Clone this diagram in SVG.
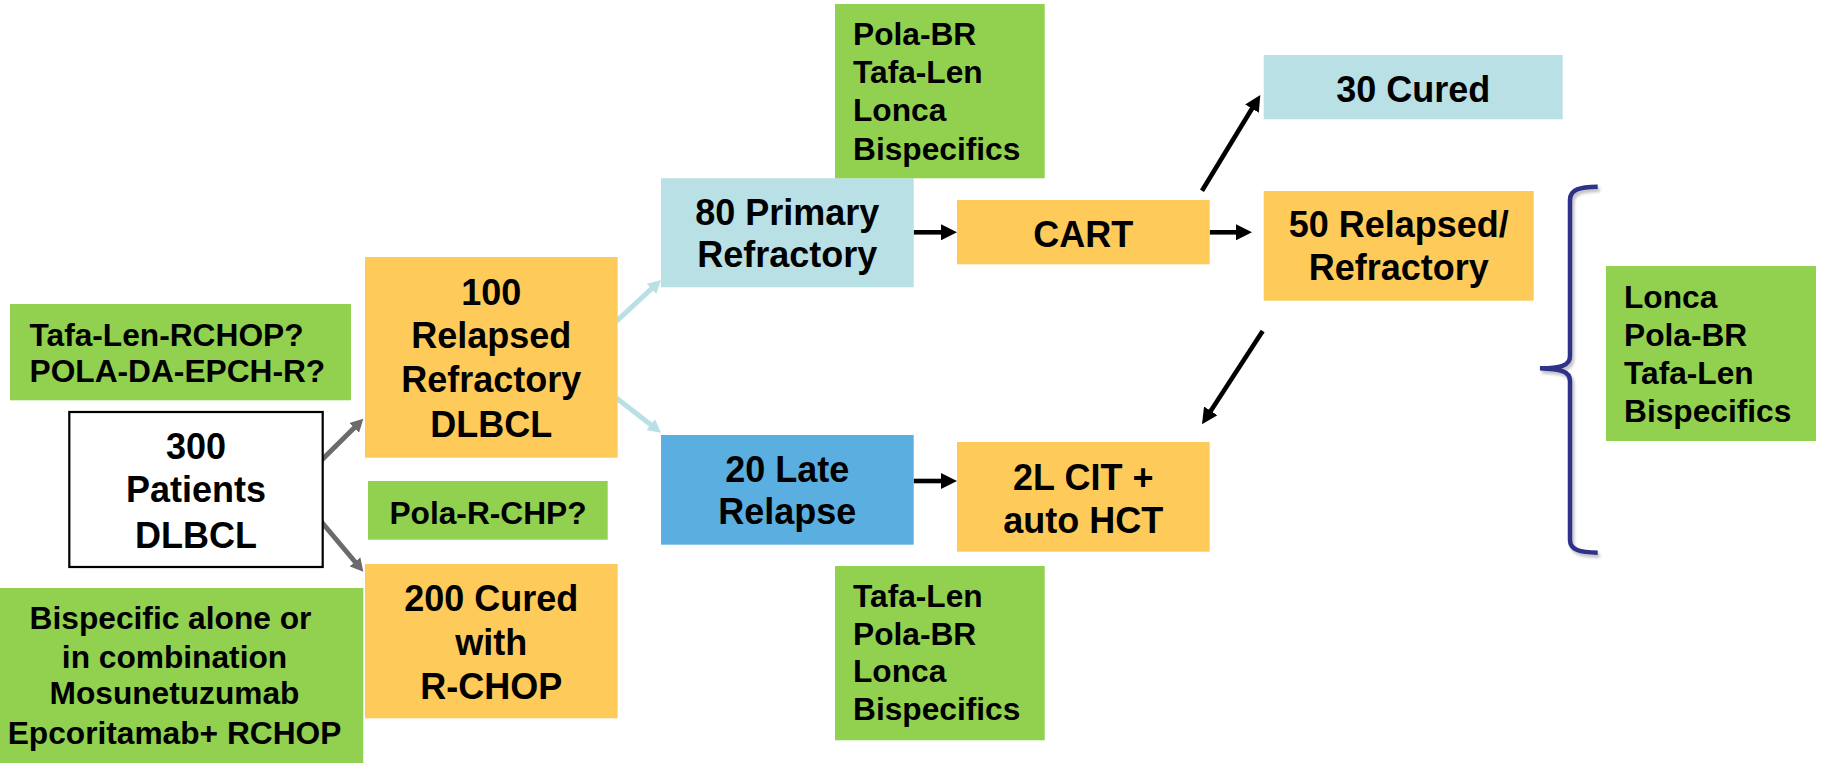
<svg xmlns="http://www.w3.org/2000/svg" width="1826" height="763" viewBox="0 0 1826 763">
  <style>
    text { font-family: "Liberation Sans", Arial, sans-serif; font-weight: bold; fill: #000; }
    .big { font-size: 36px; text-anchor: middle; }
    .small { font-size: 31.7px; }
    .mid { text-anchor: middle; }
    .orange { fill: #fecb5b; }
    .green { fill: #92d050; }
    .aqua { fill: #b9e0e4; }
    .blue { fill: #5bafe0; }
    .conn { fill: none; stroke-width: 4.6; }
    .grey { stroke: #6b6b6b; stroke-width: 5; }
    .pale { stroke: #b9e0e4; stroke-width: 5; }
    .black { stroke: #000; }
  </style>
  <defs>
    <marker id="headBlack" markerUnits="userSpaceOnUse" markerWidth="17" markerHeight="16" refX="1" refY="8" orient="auto">
      <path d="M0,0 L16,8 L0,16 z" fill="#000"/>
    </marker>
    <marker id="headGrey" markerUnits="userSpaceOnUse" markerWidth="14" markerHeight="14" refX="1" refY="7" orient="auto">
      <path d="M0,0 L13,7 L0,14 z" fill="#6b6b6b"/>
    </marker>
    <marker id="headPale" markerUnits="userSpaceOnUse" markerWidth="14" markerHeight="14" refX="1" refY="7" orient="auto">
      <path d="M0,0 L13,7 L0,14 z" fill="#b9e0e4"/>
    </marker>
    <filter id="braceShadow" x="-20%" y="-5%" width="140%" height="110%">
      <feDropShadow dx="2" dy="3" stdDeviation="1.5" flood-color="#000" flood-opacity="0.25"/>
    </filter>
  </defs>

  <rect width="1826" height="763" fill="#fff"/>

  <!-- connectors -->
  <g id="connectors">
    <line class="conn grey" x1="320.7" y1="461" x2="354.8" y2="427.2" marker-end="url(#headGrey)"/>
    <line class="conn grey" x1="320.7" y1="521" x2="355.6" y2="562.5" marker-end="url(#headGrey)"/>
    <line class="conn pale" x1="616" y1="321.7" x2="652.2" y2="288.2" marker-end="url(#headPale)"/>
    <line class="conn pale" x1="616" y1="397.7" x2="651.5" y2="425.3" marker-end="url(#headPale)"/>
    <line class="conn black" x1="913.7" y1="232.3" x2="942" y2="232.3" marker-end="url(#headBlack)"/>
    <line class="conn black" x1="913.7" y1="481" x2="942" y2="481" marker-end="url(#headBlack)"/>
    <line class="conn black" x1="1209.7" y1="232.3" x2="1237" y2="232.3" marker-end="url(#headBlack)"/>
    <line class="conn black" x1="1202" y1="190.7" x2="1252.5" y2="107.8" marker-end="url(#headBlack)"/>
    <line class="conn black" x1="1262.7" y1="331" x2="1210.2" y2="411.7" marker-end="url(#headBlack)"/>
    <path id="brace" d="M1597.7,186.7 C1580,187 1570,189 1570,200 L1570,356 C1570,366 1560,368 1540,368.3 C1560,369 1570,371 1570,381 L1570,540 C1570,550 1580,552.5 1597.7,552.7" fill="none" stroke="#2e3089" stroke-width="4.5" filter="url(#braceShadow)"/>
  </g>

  <!-- start population -->
  <g id="patients">
    <rect x="69.3" y="412" width="253.4" height="155" fill="#fff" stroke="#000" stroke-width="2.2"/>
    <text class="big" x="196" y="459">300</text>
    <text class="big" x="196" y="502">Patients</text>
    <text class="big" x="196" y="547.5">DLBCL</text>
  </g>

  <g id="frontline-trials">
    <rect class="green" x="10" y="304" width="341" height="96.3"/>
    <text class="small" x="29.5" y="345.5">Tafa-Len-RCHOP?</text>
    <text class="small" x="29.5" y="382">POLA-DA-EPCH-R?</text>
  </g>

  <g id="bispecific-frontline">
    <rect class="green" x="0" y="588" width="363.3" height="175"/>
    <text class="small mid" x="170.5" y="629.3">Bispecific alone or</text>
    <text class="small mid" x="174.5" y="667.7">in combination</text>
    <text class="small mid" x="174.5" y="704.3">Mosunetuzumab</text>
    <text class="small mid" x="174.5" y="743.7">Epcoritamab+ RCHOP</text>
  </g>

  <g id="relapsed-refractory">
    <rect class="orange" x="365" y="257" width="252.7" height="200.7"/>
    <text class="big" x="491.3" y="305">100</text>
    <text class="big" x="491.3" y="347.5">Relapsed</text>
    <text class="big" x="491.3" y="392">Refractory</text>
    <text class="big" x="491.3" y="437">DLBCL</text>
  </g>

  <g id="pola-rchp">
    <rect class="green" x="368" y="481" width="239.7" height="58.7"/>
    <text class="small mid" x="488" y="523.7">Pola-R-CHP?</text>
  </g>

  <g id="cured-rchop">
    <rect class="orange" x="365" y="564" width="252.7" height="154.3"/>
    <text class="big" x="491.3" y="611">200 Cured</text>
    <text class="big" x="491.3" y="654.5">with</text>
    <text class="big" x="491.3" y="698.5">R-CHOP</text>
  </g>

  <g id="primary-refractory">
    <rect class="aqua" x="661" y="178.3" width="252.7" height="109"/>
    <text class="big" x="787.3" y="225">80 Primary</text>
    <text class="big" x="787.3" y="266.7">Refractory</text>
  </g>

  <g id="late-relapse">
    <rect class="blue" x="661" y="435" width="252.7" height="109.7"/>
    <text class="big" x="787.3" y="482">20 Late</text>
    <text class="big" x="787.3" y="524.3">Relapse</text>
  </g>

  <g id="options-refractory">
    <rect class="green" x="835" y="4" width="209.7" height="174.3"/>
    <text class="small" x="853" y="45">Pola-BR</text>
    <text class="small" x="853" y="83">Tafa-Len</text>
    <text class="small" x="853" y="121">Lonca</text>
    <text class="small" x="853" y="160">Bispecifics</text>
  </g>

  <g id="options-late">
    <rect class="green" x="835" y="566" width="209.7" height="174.3"/>
    <text class="small" x="853" y="607">Tafa-Len</text>
    <text class="small" x="853" y="644.5">Pola-BR</text>
    <text class="small" x="853" y="682">Lonca</text>
    <text class="small" x="853" y="720">Bispecifics</text>
  </g>

  <g id="cart">
    <rect class="orange" x="957" y="200" width="252.7" height="64.3"/>
    <text class="big" x="1083.3" y="246.7">CART</text>
  </g>

  <g id="cit-hct">
    <rect class="orange" x="957" y="442" width="252.7" height="109.7"/>
    <text class="big" x="1083.3" y="490">2L CIT +</text>
    <text class="big" x="1083.3" y="532.7">auto HCT</text>
  </g>

  <g id="cured-30">
    <rect class="aqua" x="1263.7" y="55" width="299" height="64.3"/>
    <text class="big" x="1413.2" y="102">30 Cured</text>
  </g>

  <g id="relapsed-50">
    <rect class="orange" x="1263.7" y="191" width="270" height="109.7"/>
    <text class="big" x="1398.7" y="237.3">50 Relapsed/</text>
    <text class="big" x="1398.7" y="280">Refractory</text>
  </g>

  <g id="options-later">
    <rect class="green" x="1606" y="266" width="210" height="175"/>
    <text class="small" x="1624" y="307.5">Lonca</text>
    <text class="small" x="1624" y="345.5">Pola-BR</text>
    <text class="small" x="1624" y="383.5">Tafa-Len</text>
    <text class="small" x="1624" y="421.5">Bispecifics</text>
  </g>
</svg>
